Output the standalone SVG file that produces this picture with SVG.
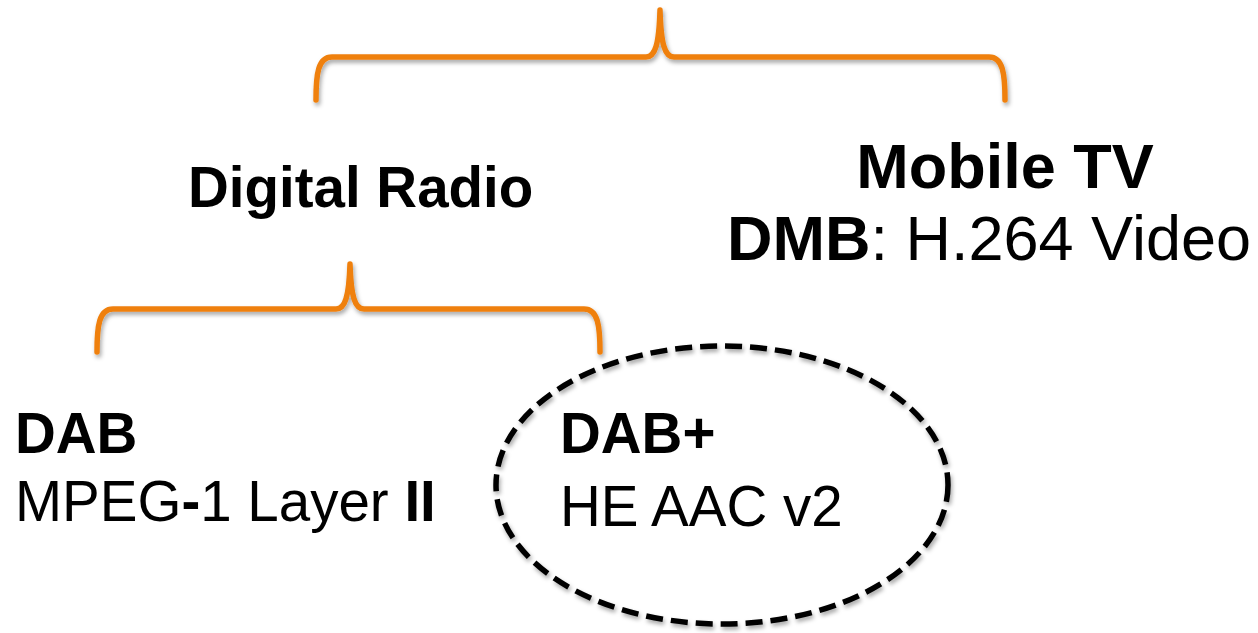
<svg xmlns="http://www.w3.org/2000/svg" width="1258" height="633" viewBox="0 0 1258 633">
  <defs>
    <filter id="soft-shadow" x="-5%" y="-20%" width="110%" height="140%">
      <feDropShadow dx="1.5" dy="3" stdDeviation="2" flood-color="#000" flood-opacity="0.35"/>
    </filter>
    <style>
      .brace { fill: none; stroke: #EF8010; stroke-width: 5.5; stroke-linecap: round; stroke-linejoin: round; filter: url(#soft-shadow); }
      .ring { fill: none; stroke: #000; stroke-width: 5.5; stroke-dasharray: 17 8; filter: url(#soft-shadow); }
      text { font-family: "Liberation Sans", Arial, sans-serif; fill: #000; }
      .b { font-weight: bold; }
    </style>
  </defs>

  <rect width="1258" height="633" fill="#fff"/>

  <!-- braces -->
  <g id="connectors">
    <path class="brace" d="M316,100 C316,74 318,57 332,57 L646,57 C655,57 659,45 660,10 C661,45 665,57 674,57 L989,57 C1003,57 1005,74 1005,100"/>
    <path class="brace" d="M97,352 C97,326 99,309 113,309 L336,309 C345,309 349,297 350,264 C351,297 355,309 364,309 L584,309 C598,309 600,326 600,352"/>
  </g>

  <g id="mobile-tv">
    <text class="b" x="1005" y="188" font-size="63" text-anchor="middle">Mobile TV</text>
    <text x="727" y="260" font-size="63"><tspan class="b">DMB</tspan>: H.264 Video</text>
  </g>

  <g id="digital-radio">
    <text class="b" x="188" y="207" font-size="56.5">Digital Radio</text>
  </g>

  <g id="dab">
    <text class="b" x="15" y="453" font-size="56.5">DAB</text>
    <text x="15" y="521" font-size="56.5">MPEG<tspan class="b">-</tspan>1 Layer <tspan class="b">II</tspan></text>
  </g>

  <g id="dab-plus">
    <ellipse class="ring" cx="722" cy="485" rx="226" ry="139"/>
    <text class="b" x="560" y="453" font-size="56.5">DAB+</text>
    <text x="560" y="526" font-size="56.5">HE AAC v2</text>
  </g>
</svg>
